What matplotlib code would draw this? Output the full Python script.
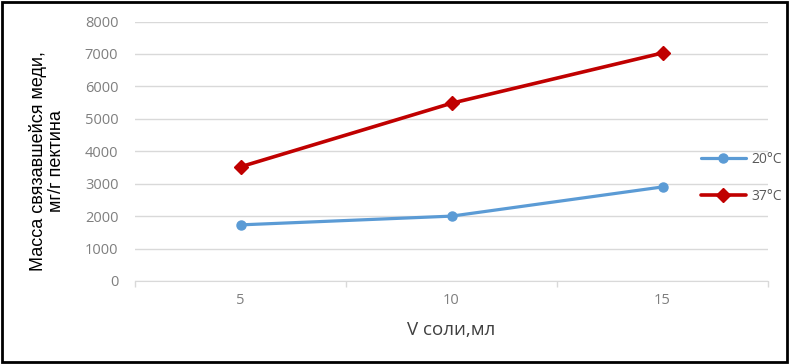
import matplotlib
matplotlib.use("Agg")
import matplotlib.pyplot as plt
from matplotlib.patches import Rectangle

categories = ["5", "10", "15"]
series_20 = [1730, 2000, 2900]
series_37 = [3520, 5480, 7030]
labels = ["20°C", "37°C"]
yticks = [0, 1000, 2000, 3000, 4000, 5000, 6000, 7000, 8000]

fig = plt.figure(figsize=(7.9, 3.64), dpi=100)
ax = fig.add_axes([135/790, 1-281/364, (768-135)/790, (281-21.5)/364])

x = list(range(len(categories)))
ax.plot(x, series_20, color="#5B9BD5", lw=2.3, marker="o", ms=6.5, label=labels[0],
        solid_capstyle="round", zorder=3)
ax.plot(x, series_37, color="#C00000", lw=2.6, marker="D", ms=7.5, label=labels[1],
        solid_capstyle="round", zorder=3)

ax.set_xlim(-0.5, len(categories)-0.5)
ax.set_ylim(0, 8000)
ax.set_yticks(yticks)
ax.set_yticklabels([str(v) for v in yticks])
ax.set_xticks(x)
ax.set_xticklabels(categories)
ax.set_xticks([i-0.5 for i in range(len(categories)+1)], minor=True)
ax.tick_params(axis="x", which="major", length=0, pad=9, labelsize=10.5, labelcolor="#7F7F7F")
ax.tick_params(axis="x", which="minor", length=4, color="#D9D9D9", width=1)
ax.tick_params(axis="y", length=0, pad=12, labelsize=10.5, labelcolor="#7F7F7F")
for lab in ax.get_xticklabels() + ax.get_yticklabels():
    lab.set_family("Open Sans")

ax.grid(axis="y", color="#D9D9D9", lw=1)
ax.set_axisbelow(True)
for s in ["top", "right", "left"]:
    ax.spines[s].set_visible(False)
ax.spines["bottom"].set_color("#D9D9D9")

ax.set_xlabel("V соли,мл", fontsize=13.5, color="#404040", family="Open Sans", labelpad=9)
fig.text(47/790, 1-161/364, "Масса связавшейся меди,\nмг/г пектина", rotation=90,
         ha="center", va="center", fontsize=13, family="Liberation Sans", color="black",
         linespacing=1.1, multialignment="center")

leg = ax.legend(loc="upper left", bbox_to_anchor=(688/790, 1-139/364),
                bbox_transform=fig.transFigure, frameon=False,
                handlelength=3.3, labelspacing=1.6, handletextpad=0.35,
                prop={"family": "Open Sans", "size": 10})
for t in leg.get_texts():
    t.set_color("#595959")

fig.patches.append(Rectangle((0.003, 0.005), 0.993, 0.99, transform=fig.transFigure,
                             fill=False, edgecolor="black", lw=2))

fig.savefig("out.png", dpi=100)
